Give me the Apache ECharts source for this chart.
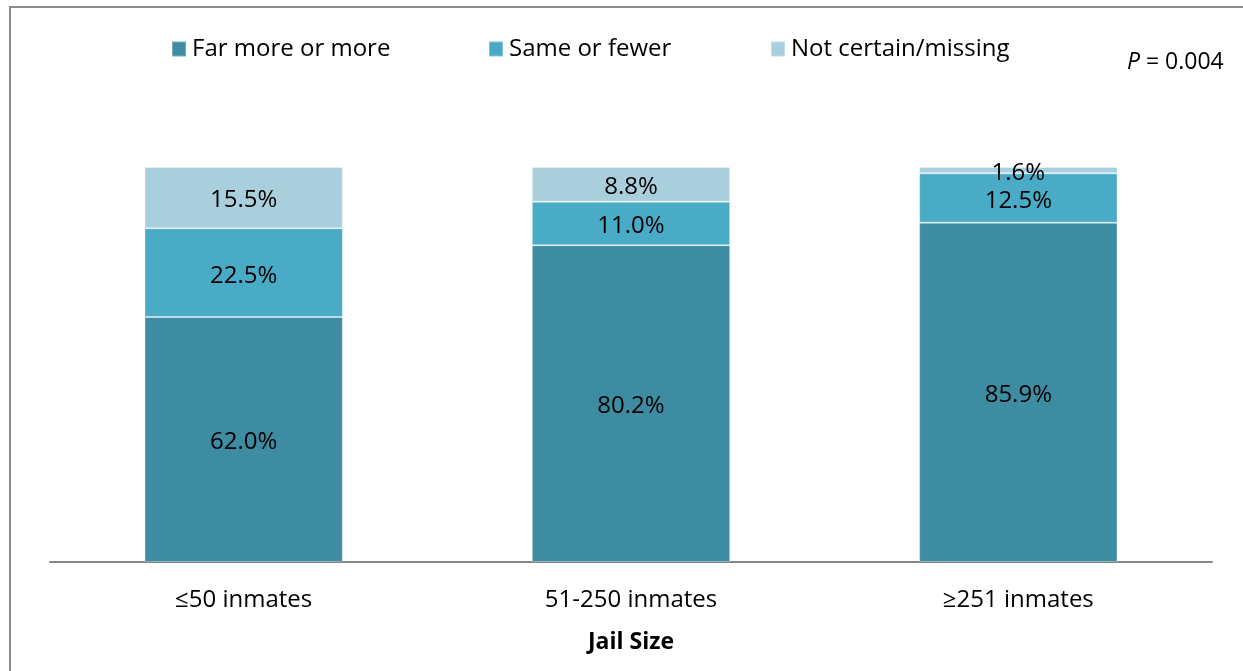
<!DOCTYPE html>
<html><head><meta charset="utf-8">
<script src="https://cdn.jsdelivr.net/npm/echarts@6/dist/echarts.min.js"></script>
<style>html,body{margin:0;padding:0;background:#fff}#c{width:1243px;height:671px}</style>
</head><body><div id="c"></div>
<script>
const categories = ['≤50 inmates', '51-250 inmates', '≥251 inmates'];
const farMore = [62.0, 80.2, 85.9];
const sameFewer = [22.5, 11.0, 12.5];
const notCertain = [15.5, 8.8, 1.6];
const seriesNames = ['Far more or more', 'Same or fewer', 'Not certain/missing'];
const colors = ['#3d8ca2', '#4aabc6', '#a9cfdc'];
const FONT = '"Open Sans", sans-serif';

const chart = echarts.init(document.getElementById('c'));
function mk(name, data, color) {
  return {
    name, type: 'bar', stack: 'total', data, barWidth: '51.2%',
    itemStyle: { color, borderColor: 'rgba(255,255,255,0.3)', borderWidth: 1 },
    label: { show: true, position: 'inside', offset: [0, 3], formatter: p => p.value.toFixed(1) + '%',
      color: '#000', fontSize: 24, fontFamily: FONT },
    emphasis: { disabled: true }
  };
}
const legendBase = { top: 32, itemWidth: 14, itemHeight: 15, itemGap: 6,
  textStyle: { fontSize: 24, fontFamily: FONT, color: '#000', padding: [0,0,0,1] }, selectedMode: false, icon: 'rect' };
chart.setOption({
  animation: false,
  grid: { left: 50, right: 31, top: 167, bottom: 109 },
  legend: [
    Object.assign({}, legendBase, { left: 166, data: [seriesNames[0]] }),
    Object.assign({}, legendBase, { left: 483, data: [seriesNames[1]] }),
    Object.assign({}, legendBase, { left: 765, data: [seriesNames[2]] })
  ],
  xAxis: { type: 'category', data: categories,
    axisLine: { lineStyle: { color: '#868686', width: 2 } }, axisTick: { show: false },
    axisLabel: { fontSize: 24, fontFamily: FONT, color: '#000', margin: 26 },
    name: 'Jail Size', nameLocation: 'middle', nameGap: 69,
    nameTextStyle: { fontSize: 23, fontWeight: 'bold', fontFamily: FONT, color: '#000' } },
  yAxis: { type: 'value', min: 0, max: 100, show: false },
  series: [
    mk(seriesNames[0], farMore, colors[0]),
    mk(seriesNames[1], sameFewer, colors[1]),
    mk(seriesNames[2], notCertain, colors[2])
  ],
  graphic: [
    { type: 'rect', shape: { x: 10, y: 7, width: 1250, height: 700 }, style: { fill: 'none', stroke: '#8c8c8c', lineWidth: 2 }, silent: true },
    { type: 'text', left: 1127, top: 51, style: { text: '{i|P} = 0.004',
      rich: { i: { fontStyle: 'italic', fontSize: 23, fontFamily: FONT, fill: '#000' } },
      fontSize: 23, fontFamily: FONT, fill: '#000' } }
  ]
});
</script></body></html>
